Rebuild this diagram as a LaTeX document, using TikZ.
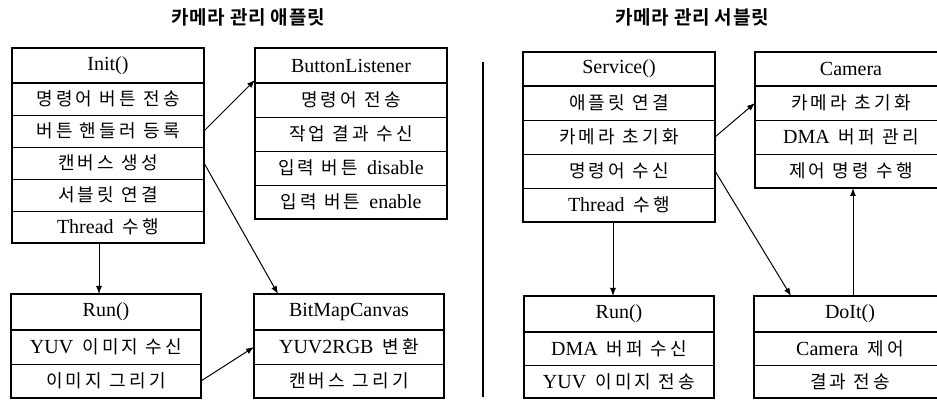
\documentclass[tikz,border=0pt]{standalone}
\usepackage{fontspec}
\setmainfont{Liberation Serif}[WordSpace=1.8]
\newfontfamily\kr[LetterSpace=18.0]{Noto Sans CJK KR}
\newfontfamily\krb[LetterSpace=4.0]{Noto Sans CJK KR Bold}
\newcommand{\ko}[1]{{\kr\fontsize{18}{20}\selectfont #1}}
\usetikzlibrary{arrows.meta}

\begin{document}
\begin{tikzpicture}[x=1pt,y=-1pt,
  headbox/.style={draw,line width=1.6pt,minimum width=192pt,minimum height=35pt,inner sep=0pt,outer sep=0pt,font=\fontsize{20}{23}\selectfont},
  rowbox/.style={draw,line width=0.7pt,minimum width=192pt,inner sep=0pt,outer sep=0pt,font=\fontsize{20}{23}\selectfont},
  frame/.style={line width=1.4pt},
  arr/.style={-{Latex[length=8pt,width=6pt]},line width=1pt},
  titletext/.style={inner sep=0pt,font=\krb\fontsize{19}{22}\selectfont}]
\useasboundingbox (0,0) rectangle (937,403);
\clip (0,0) rectangle (937,403);
\node[titletext] (ltitle) at (248,17) {카메라 관리 애플릿};
\node[titletext] (rtitle) at (692,17) {카메라 관리 서블릿};
\node[headbox] (init) at (108,65.5) {Init()};
\node[rowbox,minimum height=32pt] (init1) at (108,99) {\ko{명령어 버튼 전송}};
\node[rowbox,minimum height=32pt] (init2) at (108,131) {\ko{버튼 핸들러 등록}};
\node[rowbox,minimum height=32pt] (init3) at (108,163) {\ko{캔버스 생성}};
\node[rowbox,minimum height=32pt] (init4) at (108,195) {\ko{서블릿 연결}};
\node[rowbox,minimum height=32pt] (init5) at (108,227) {Thread \ko{수행}};
\draw[frame] (init.north west) rectangle (init5.south east);
\node[headbox] (btn) at (351,65.5) {ButtonListener};
\node[rowbox,minimum height=34pt] (btn1) at (351,100) {\ko{명령어 전송}};
\node[rowbox,minimum height=34pt] (btn2) at (351,134) {\ko{작업 결과 수신}};
\node[rowbox,minimum height=34pt] (btn3) at (351,168) {\ko{입력 버튼} disable};
\node[rowbox,minimum height=34pt] (btn4) at (351,202) {\ko{입력 버튼} enable};
\draw[frame] (btn.north west) rectangle (btn4.south east);
\node[headbox,minimum width=190pt,minimum height=36pt] (run) at (106,312) {Run()};
\node[rowbox,minimum width=190pt,minimum height=34pt] (run1) at (106,347) {YUV \ko{이미지 수신}};
\node[rowbox,minimum width=190pt,minimum height=34pt] (run2) at (106,381) {\ko{이미지 그리기}};
\draw[frame] (run.north west) rectangle (run2.south east);
\node[headbox,minimum width=190pt,minimum height=36pt] (bmc) at (349,312) {BitMapCanvas};
\node[rowbox,minimum width=190pt,minimum height=34pt] (bmc1) at (349,347) {YUV2RGB \ko{변환}};
\node[rowbox,minimum width=190pt,minimum height=34pt] (bmc2) at (349,381) {\ko{캔버스 그리기}};
\draw[frame] (bmc.north west) rectangle (bmc2.south east);
\node[headbox,minimum height=34pt] (svc) at (619,69) {Service()};
\node[rowbox,minimum height=34pt] (svc1) at (619,103) {\ko{애플릿 연결}};
\node[rowbox,minimum height=34pt] (svc2) at (619,137) {\ko{카메라 초기화}};
\node[rowbox,minimum height=34pt] (svc3) at (619,171) {\ko{명령어 수신}};
\node[rowbox,minimum height=34pt] (svc4) at (619,205) {Thread \ko{수행}};
\draw[frame] (svc.north west) rectangle (svc4.south east);
\node[headbox,minimum height=34pt] (cam) at (851,69) {Camera};
\node[rowbox,minimum height=34pt] (cam1) at (851,103) {\ko{카메라 초기화}};
\node[rowbox,minimum height=34pt] (cam2) at (851,137) {DMA \ko{버퍼 관리}};
\node[rowbox,minimum height=34pt] (cam3) at (851,171) {\ko{제어 명령 수행}};
\draw[frame] (cam.north west) rectangle (cam3.south east);
\node[headbox,minimum width=190pt,minimum height=36pt] (srun) at (619,314) {Run()};
\node[rowbox,minimum width=190pt,minimum height=33pt] (srun1) at (619,348.5) {DMA \ko{버퍼 수신}};
\node[rowbox,minimum width=190pt,minimum height=33pt] (srun2) at (619,381.5) {YUV \ko{이미지 전송}};
\draw[frame] (srun.north west) rectangle (srun2.south east);
\node[headbox,minimum width=192pt,minimum height=36pt] (doit) at (850,314) {DoIt()};
\node[rowbox,minimum height=33pt] (doit1) at (850,348.5) {Camera \ko{제어}};
\node[rowbox,minimum height=33pt] (doit2) at (850,381.5) {\ko{결과 전송}};
\draw[frame] (doit.north west) rectangle (doit2.south east);
\draw[line width=2pt] (483,62) -- (483,397);
\draw[arr] (init2.east) -- ([yshift=3pt]btn.south west);
\draw[arr] (init3.east) -- ([xshift=24pt]bmc.north west);
\draw[arr] ([xshift=-9pt]init5.south) -- ([xshift=-7pt]run.north);
\draw[arr] (run2.east) -- (bmc1.west);
\draw[arr] (svc2.east) -- (cam1.west);
\draw[arr] (svc3.east) -- ([xshift=37pt]doit.north west);
\draw[arr] ([xshift=-6pt]svc4.south) -- ([xshift=-6pt]srun.north);
\draw[arr] ([xshift=3pt]doit.north) -- ([xshift=2pt]cam3.south);
\end{tikzpicture}
\end{document}
